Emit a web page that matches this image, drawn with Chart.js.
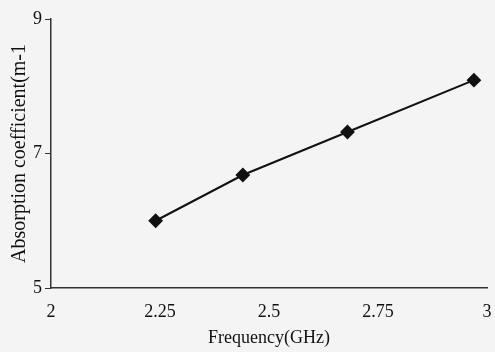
<!DOCTYPE html>
<html>
<head>
<meta charset="utf-8">
<script src="https://cdn.jsdelivr.net/npm/chart.js@4/dist/chart.umd.min.js"></script>
<style>
  html, body { margin: 0; padding: 0; background: #f4f4f4; }
  #wrap { width: 495px; height: 352px; }
</style>
</head>
<body>
<div id="wrap"><canvas id="grafico" width="495" height="352"></canvas></div>
<script>
// Datos
const frecuencias = [2.24, 2.44, 2.68, 2.97];
const absorcion = [6.0, 6.68, 7.32, 8.09];
const ticksX = [2, 2.25, 2.5, 2.75, 3];
const ticksY = [5, 7, 9];

const fuente = "'Liberation Serif', 'Times New Roman', serif";

// Fondo gris claro como el escaneo
const fondo = {
    id: 'fondo',
    beforeDraw(chart) {
        const c = chart.ctx;
        c.save();
        c.fillStyle = '#f4f4f4';
        c.fillRect(0, 0, chart.width, chart.height);
        c.restore();
    }
};

new Chart(document.getElementById('grafico').getContext('2d'), {
    type: 'scatter',
    data: {
        datasets: [{
            data: frecuencias.map((f, i) => ({ x: f, y: absorcion[i] })),
            showLine: true,
            borderColor: '#111',
            borderWidth: 2,
            pointStyle: 'rectRot',
            pointRadius: 6,
            pointBackgroundColor: '#111',
            pointBorderColor: '#111'
        }]
    },
    options: {
        responsive: false,
        animation: false,
        layout: { padding: { top: 19, right: 5, left: 0, bottom: 0 } },
        plugins: {
            legend: { display: false },
            tooltip: { enabled: false }
        },
        scales: {
            x: {
                type: 'linear',
                min: 2,
                max: 3,
                afterBuildTicks: s => { s.ticks = ticksX.map(v => ({ value: v })); },
                afterFit: s => {
                    s.height = 64;
                    // el "3" queda pegado al borde derecho como en el original
                    s.paddingRight = 0;
                    s.paddingLeft = 0;
                },
                ticks: {
                    callback: v => String(v),
                    color: '#111',
                    padding: 13,
                    maxRotation: 0,
                    font: { family: fuente, size: 18 }
                },
                grid: { display: false, drawTicks: false },
                border: { display: true, color: '#333', width: 1.5 },
                title: {
                    display: true,
                    text: 'Frequency(GHz)',
                    color: '#111',
                    font: { family: fuente, size: 18 },
                    padding: { top: 0, bottom: 3 }
                }
            },
            y: {
                type: 'linear',
                min: 5,
                max: 9,
                afterBuildTicks: s => { s.ticks = ticksY.map(v => ({ value: v })); },
                afterFit: s => { s.width = 51; },
                ticks: {
                    color: '#111',
                    padding: 3,
                    font: { family: fuente, size: 18 }
                },
                grid: { drawOnChartArea: false, tickLength: 6, color: '#333' },
                border: { display: true, color: '#333', width: 1.5 },
                title: {
                    display: true,
                    text: 'Absorption coefficient(m-1',
                    color: '#111',
                    font: { family: fuente, size: 20 },
                    padding: { top: 8, bottom: 0 }
                }
            }
        }
    },
    plugins: [fondo]
});
</script>
</body>
</html>
